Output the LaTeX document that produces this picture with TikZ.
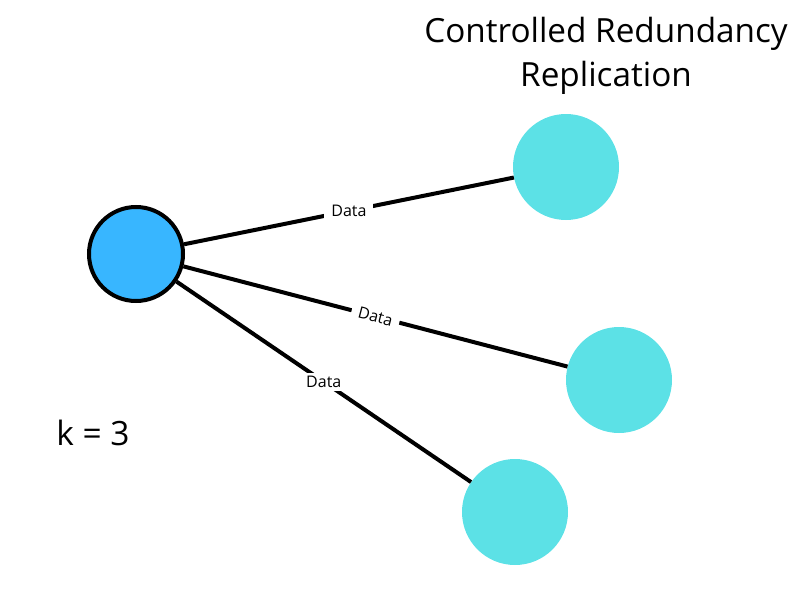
\documentclass[tikz,border=0pt]{standalone}
\usepackage{fontspec}
\setmainfont{Open Sans}
\definecolor{srcblue}{HTML}{38B6FF}
\definecolor{tgtcyan}{HTML}{5CE1E6}
\tikzset{
    src/.style={circle,draw=black,line width=4pt,fill=srcblue,minimum size=94pt,inner sep=0pt},
    tgt/.style={circle,fill=tgtcyan,minimum size=106pt,inner sep=0pt},
    link/.style={line width=4pt},
    lbl/.style={fill=white,inner xsep=7pt,inner ysep=3pt,font=\fontsize{16}{19}\selectfont}
}
\begin{document}
\begin{tikzpicture}[x=1pt,y=-1pt]
    \useasboundingbox (0,0) rectangle (807,597);
    % nodes
    \node[src] (s) at (136,254) {};
    \node[tgt] (t1) at (566,167) {};
    \node[tgt] (t2) at (619,380) {};
    \node[tgt] (t3) at (515,512) {};
    % links
    \draw[link] (s) -- node[lbl] {Data} (t1);
    \draw[link] (s) -- node[lbl,sloped] {Data} (t2);
    \draw[link] (s) -- node[lbl] {Data} (t3);
    % texts
    \node[align=center,font=\fontsize{33.3}{44}\selectfont] (title) at (606,55.5) {Controlled Redundancy\\Replication};
    \node[font=\fontsize{33.5}{40}\selectfont] (k) at (93,433) {k = 3};
\end{tikzpicture}
\end{document}
